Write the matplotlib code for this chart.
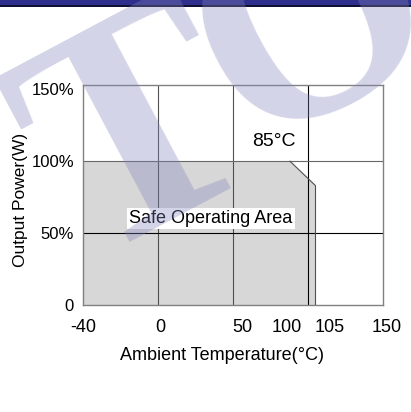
import numpy as np
import matplotlib
matplotlib.use('Agg')
import matplotlib.pyplot as plt
from matplotlib.patches import Rectangle

# derating curve
temps = [-40, 88, 105, 105]
power = [100, 100, 83, 0]

grid_temps = [-40, 0, 50, 100, 150]
grid_power = [50, 100]
ytick_vals = [0, 50, 100, 150]
ytick_labels = ['0', '50%', '100%', '150%']
xtick_labels = ['-40', '0', '50', '100', '105', '150']
xtick_at = [-40, 1.5, 56, 86, 114.7, 152.7]   # where the datasheet put the label text

SANS = ['Liberation Sans', 'DejaVu Sans']


# x axis on the datasheet is not linear: every grid cell is the same width
def fwd(x):
    x = np.asarray(x, float)
    return np.where(x < 0, (x + 40) / 40.0, 1 + x / 50.0)


def inv(c):
    c = np.asarray(c, float)
    return np.where(c < 1, c * 40.0 - 40, (c - 1) * 50.0)


fig = plt.figure(figsize=(4.11, 4.12), dpi=100)
ax = fig.add_axes([83 / 411, 107 / 412, 300 / 411, 220 / 412])
ax.set_xscale('function', functions=(fwd, inv))
ax.set_xlim(-40, 150)
ax.set_ylim(0, 153)

ax.fill_between(temps, power, 0, color='#d7d7d7', lw=0, zorder=1)
ax.plot(temps[1:], power[1:], color='#505050', lw=0.8, zorder=3)

# grid
for t in grid_temps[1:-1]:
    ax.axvline(t, color='black' if t == 100 else '#505050', lw=0.8, zorder=2)
for p in grid_power:
    ax.axhline(p, color='black' if p == 50 else '#686868', lw=0.8, zorder=2)

for s in ax.spines.values():
    s.set_color('#808080')
    s.set_linewidth(1.0)

ax.set_xticks([])
ax.set_yticks(ytick_vals)
ax.set_yticklabels(ytick_labels, family=SANS, fontsize=12)
ax.tick_params(axis='y', length=0, pad=6.5)

for lab, xp in zip(xtick_labels, xtick_at):
    ax.text(xp, -0.1, lab, transform=ax.get_xaxis_transform(), ha='center', va='center',
            family=SANS, fontsize=13, clip_on=False)

fig.text(222 / 411, 1 - 355 / 412, 'Ambient Temperature(°C)', ha='center', va='center',
         family=SANS, fontsize=13)
fig.text(20 / 411, 1 - 200 / 412, 'Output Power(W)', ha='center', va='center',
         rotation=90, family=SANS, fontsize=12.5)

ax.text(0.637, 0.745, '85°C', transform=ax.transAxes, ha='center', va='center',
        family=SANS, fontsize=14, zorder=4)
ax.text(0.427, 0.393, 'Safe Operating Area', transform=ax.transAxes, ha='center', va='center',
        family=SANS, fontsize=13, zorder=4,
        bbox=dict(facecolor='white', edgecolor='none', pad=1.5))

# header band
fig.add_artist(Rectangle((0, 1 - 5 / 412), 1, 5 / 412, transform=fig.transFigure,
                         color='#2e2e8c', lw=0))
fig.add_artist(Rectangle((0, 1 - 7 / 412), 1, 2 / 412, transform=fig.transFigure,
                         color='#101030', lw=0))

# watermark
wm = dict(family=['Liberation Serif', 'DejaVu Serif'], weight='bold',
          rotation=28, rotation_mode='anchor', ha='center', va='baseline',
          color=(132 / 255, 132 / 255, 189 / 255), alpha=0.35, zorder=10)
fig.text(180 / 411, 1 - 212 / 412, 'T', fontsize=228, **wm)
fig.text(350 / 411, 1 - 94 / 412, 'O', fontsize=212, **wm)

fig.savefig('out.png', dpi=100, facecolor='white')
